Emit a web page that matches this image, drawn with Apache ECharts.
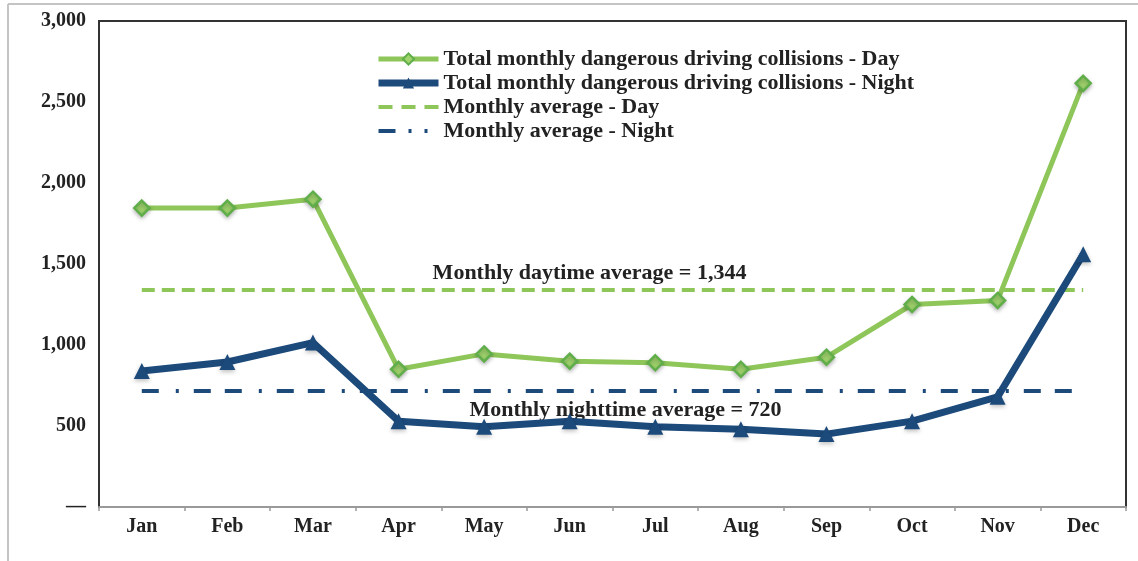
<!DOCTYPE html>
<html><head><meta charset="utf-8">
<script src="https://cdn.jsdelivr.net/npm/echarts@6/dist/echarts.min.js"></script>
<style>html,body{margin:0;padding:0;background:#fff}#c{width:1138px;height:561px}</style>
</head><body><div id="c"></div>
<script>
const months = ['Jan','Feb','Mar','Apr','May','Jun','Jul','Aug','Sep','Oct','Nov','Dec'];
const dayTotals = [1845, 1845, 1900, 850, 945, 900, 890, 850, 925, 1250, 1275, 2615];
const nightTotals = [840, 895, 1015, 530, 495, 530, 495, 480, 450, 530, 680, 1560];
const dayAverage = 1344;
const nightAverage = 720;
const seriesNames = ['Total monthly dangerous driving collisions - Day','Total monthly dangerous driving collisions - Night','Monthly average - Day','Monthly average - Night'];
const yTicks = [0, 500, 1000, 1500, 2000, 2500, 3000];
const yTickLabels = ['—', '500', '1,000', '1,500', '2,000', '2,500', '3,000'];

const GREEN = '#8ec65a', BLUE = '#1c4a7b', FONT = '"Liberation Serif", "DejaVu Serif", serif';
const DAY_DASH = [13, 7];
const NIGHT_DASH = [17, 17, 3, 15, 17, 14];
const chart = echarts.init(document.getElementById('c'));
chart.setOption({
  animation: false,
  textStyle: {fontFamily: FONT},
  graphic: [
    {type: 'line', shape: {x1: 8, y1: 4, x2: 8, y2: 561}, style: {stroke: '#c4c4c4', lineWidth: 2}},
    {type: 'line', shape: {x1: 8, y1: 4, x2: 1138, y2: 4}, style: {stroke: '#c4c4c4', lineWidth: 2}}
  ],
  grid: {left: 99, right: 12, top: 21, bottom: 54, show: true, borderColor: '#333', borderWidth: 2},
  legend: {
    left: 370, top: 43, orient: 'vertical', itemGap: 2, itemWidth: 60, itemHeight: 14,
    textStyle: {fontFamily: FONT, fontWeight: 'bold', fontSize: 22, color: '#222'},
    data: [
      {name: seriesNames[0], lineStyle: {width: 5}},
      {name: seriesNames[1], lineStyle: {width: 7}},
      {name: seriesNames[2], lineStyle: {width: 4, type: [14, 9]}, itemStyle: {opacity: 0}},
      {name: seriesNames[3], lineStyle: {width: 4, type: [17, 13, 3, 13, 3, 13]}, itemStyle: {opacity: 0}}
    ]
  },
  xAxis: {
    type: 'category', data: months, boundaryGap: true,
    axisLine: {lineStyle: {color: '#999', width: 2}},
    axisTick: {show: true, length: 4, lineStyle: {color: '#999', width: 1.5}},
    axisLabel: {fontFamily: FONT, fontWeight: 'bold', fontSize: 20, color: '#222', margin: 10}
  },
  yAxis: {
    type: 'value', min: 0, max: 3000, interval: 500,
    splitLine: {show: false},
    axisLine: {show: true, lineStyle: {color: '#333', width: 2}},
    axisTick: {show: false},
    axisLabel: {fontFamily: FONT, fontWeight: 'bold', fontSize: 20, color: '#222', margin: 13,
      formatter: v => yTickLabels[yTicks.indexOf(v)] ?? ''}
  },
  series: [
    {
      name: seriesNames[0], type: 'line', data: dayTotals, z: 4,
      symbol: 'diamond', symbolSize: 15,
      lineStyle: {color: GREEN, width: 5},
      itemStyle: {color: '#9fd36c', borderColor: '#5fae4a', borderWidth: 2.5, shadowColor: 'rgba(0,0,0,0.25)', shadowBlur: 4, shadowOffsetY: 2}
    },
    {
      name: seriesNames[1], type: 'line', data: nightTotals, z: 5,
      symbol: 'triangle', symbolSize: 16,
      lineStyle: {color: BLUE, width: 7},
      itemStyle: {color: BLUE, shadowColor: 'rgba(0,0,0,0.25)', shadowBlur: 4, shadowOffsetY: 2}
    },
    {
      name: seriesNames[2], type: 'line', data: [], symbol: 'none',
      lineStyle: {color: GREEN, width: 4, type: DAY_DASH}, itemStyle: {color: GREEN},
      markLine: {
        silent: true, symbol: 'none',
        lineStyle: {color: GREEN, width: 4, type: DAY_DASH},
        label: {show: true, position: 'middle', formatter: 'Monthly daytime average = 1,344',
          fontFamily: FONT, fontWeight: 'bold', fontSize: 22, color: '#222', distance: 5, offset: [-23, 0]},
        data: [[{xAxis: 'Jan', yAxis: dayAverage}, {xAxis: 'Dec', yAxis: dayAverage}]]
      }
    },
    {
      name: seriesNames[3], type: 'line', data: [], symbol: 'none',
      lineStyle: {color: BLUE, width: 4, type: NIGHT_DASH}, itemStyle: {color: BLUE},
      markLine: {
        silent: true, symbol: 'none',
        lineStyle: {color: BLUE, width: 4, type: NIGHT_DASH},
        label: {show: true, position: 'insideMiddleBottom', formatter: 'Monthly nighttime average = 720',
          fontFamily: FONT, fontWeight: 'bold', fontSize: 22, color: '#222', distance: 9, offset: [13, 0]},
        data: [[{xAxis: 'Jan', yAxis: nightAverage}, {xAxis: 'Dec', yAxis: nightAverage}]]
      }
    }
  ]
});
</script></body></html>
